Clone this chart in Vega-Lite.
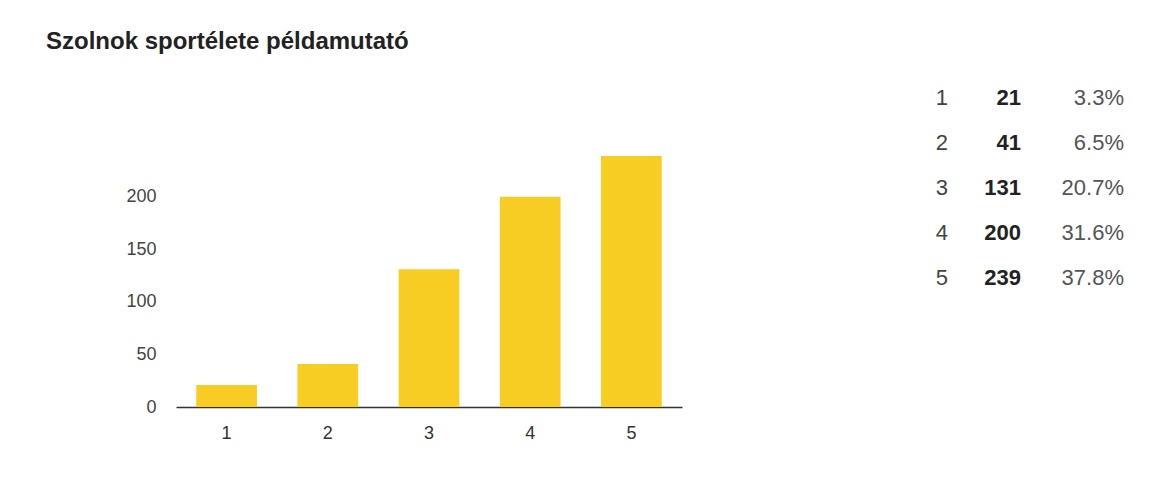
{
  "$schema": "https://vega.github.io/schema/vega-lite/v6.json",
  "background": "white",
  "padding": {"left": 46, "top": 29, "right": 10, "bottom": 10},
  "title": {
    "text": "Szolnok sportélete példamutató",
    "anchor": "start",
    "frame": "group",
    "dx": -130,
    "offset": 2,
    "baseline": "alphabetic",
    "font": "Liberation Sans",
    "fontSize": 24,
    "fontWeight": "bold",
    "color": "#222222"
  },
  "data": {
    "values": [
      {"rating": 1, "count": 21, "share": 0.033},
      {"rating": 2, "count": 41, "share": 0.065},
      {"rating": 3, "count": 131, "share": 0.207},
      {"rating": 4, "count": 200, "share": 0.316},
      {"rating": 5, "count": 239, "share": 0.378}
    ]
  },
  "spacing": 247,
  "hconcat": [
    {
      "width": 506,
      "height": 332,
      "mark": {"type": "bar", "color": "#f8cd23"},
      "encoding": {
        "x": {
          "field": "rating",
          "type": "ordinal",
          "scale": {"paddingInner": 0.4, "paddingOuter": 0.2},
          "axis": {
            "title": null,
            "labelAngle": 0,
            "ticks": false,
            "tickSize": 0,
            "labelPadding": 17,
            "labelFontSize": 18,
            "labelFont": "Liberation Sans",
            "labelColor": "#333333",
            "domainColor": "#333333",
            "domainWidth": 1.5
          }
        },
        "y": {
          "field": "count",
          "type": "quantitative",
          "scale": {"domain": [0, 316], "nice": false},
          "axis": {
            "title": null,
            "values": [0, 50, 100, 150, 200],
            "grid": false,
            "domain": false,
            "ticks": false,
            "tickSize": 0,
            "labelPadding": 20,
            "labelFontSize": 18,
            "labelFont": "Liberation Sans",
            "labelColor": "#444444"
          }
        }
      }
    },
    {
      "width": 200,
      "height": 225,
      "encoding": {
        "y": {
          "field": "rating",
          "type": "ordinal",
          "scale": {"type": "point", "padding": 0.5},
          "axis": null
        }
      },
      "layer": [
        {
          "mark": {"type": "text", "align": "right", "baseline": "middle", "dx": -83, "font": "Liberation Sans", "fontSize": 22, "color": "#444444"},
          "encoding": {"text": {"field": "rating", "type": "ordinal"}}
        },
        {
          "mark": {"type": "text", "align": "right", "baseline": "middle", "dx": -10, "font": "Liberation Sans", "fontSize": 22, "fontWeight": "bold", "color": "#222222"},
          "encoding": {"text": {"field": "count", "type": "quantitative"}}
        },
        {
          "mark": {"type": "text", "align": "right", "baseline": "middle", "dx": 93, "font": "Liberation Sans", "fontSize": 22, "color": "#555555"},
          "encoding": {"text": {"field": "share", "type": "quantitative", "format": ".1%"}}
        }
      ]
    }
  ],
  "config": {
    "view": {"stroke": "transparent"}
  }
}
